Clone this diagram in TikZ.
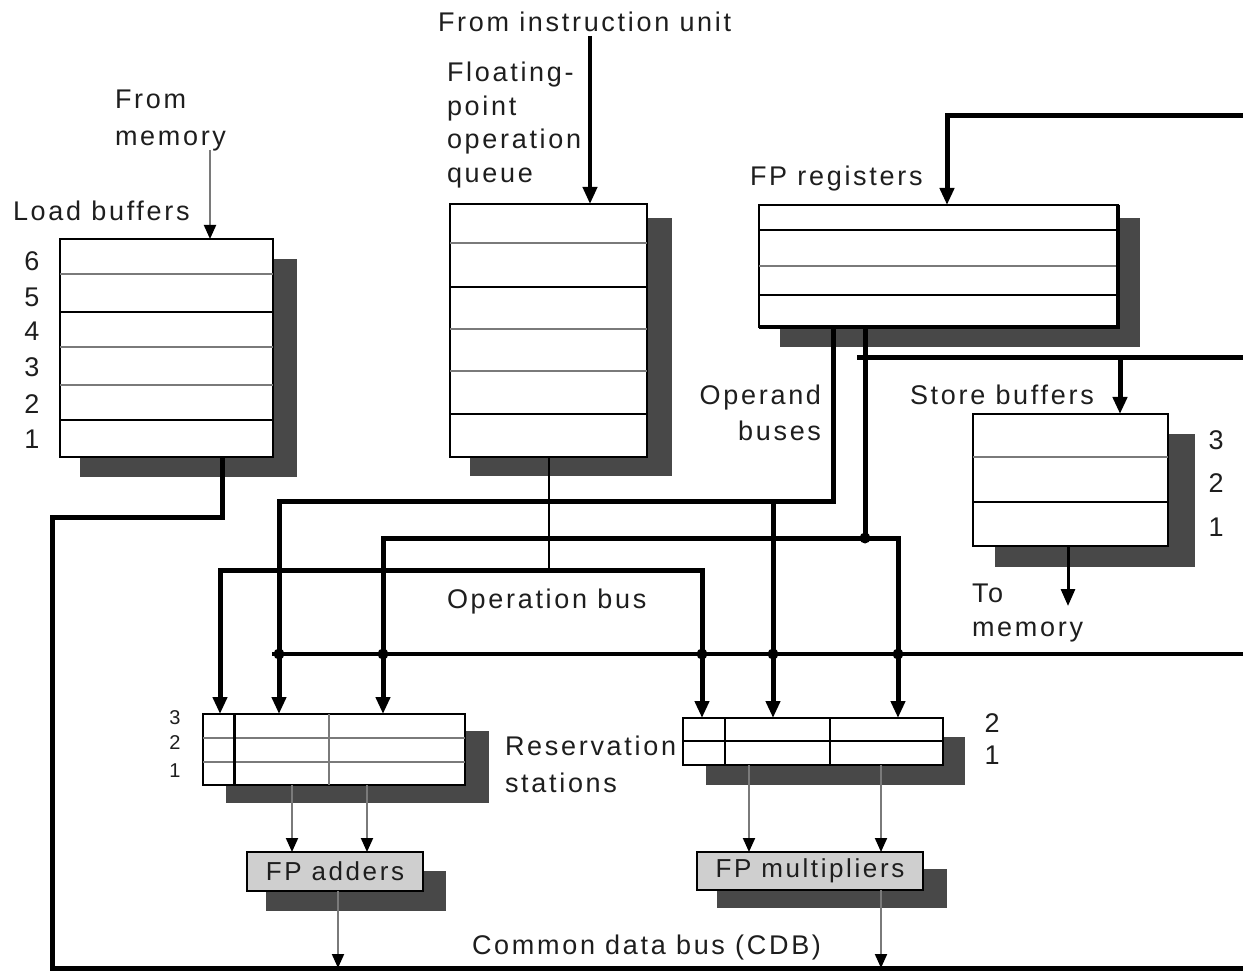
\documentclass[tikz,border=0pt]{standalone}
\usepackage{fontspec}
\setmainfont{Liberation Sans}[LetterSpace=10.0]
\usetikzlibrary{arrows.meta,calc}
\definecolor{shd}{HTML}{484848}
\definecolor{txt}{HTML}{1E1E1E}
\definecolor{gline}{HTML}{7A7A7A}
\definecolor{fufill}{HTML}{CFCFCF}
\begin{document}
\begin{tikzpicture}[x=1pt,y=-1pt,
  lbl/.style={font=\fontsize{27}{33}\selectfont, text=txt, inner sep=0pt, outer sep=0pt},
  box/.style={draw=black, line width=2pt, fill=white, inner sep=0pt, outer sep=0pt, anchor=north west},
  fubox/.style={draw=black, line width=2pt, fill=fufill, inner sep=0pt, outer sep=0pt, anchor=north west, font=\fontsize{26}{30}\selectfont, text=txt},
  bus/.style={line width=5pt, draw=black},
  busarr/.style={bus, -{Triangle[length=17pt,width=14pt]}},
  thinarr/.style={line width=2pt, draw=gline, -{Triangle[length=14pt,width=12pt,color=black]}},
  junction/.style={circle, fill=black, inner sep=0pt, minimum size=11pt},
  rowg/.style={line width=2pt, draw=gline},
  rowk/.style={line width=2.5pt, draw=black},
]
\useasboundingbox[fill=white] (0,0) rectangle (1243,973);

% ---------- shadows ----------
\fill[shd] (80,259) rectangle (297,477);
\fill[shd] (470,218) rectangle (672,476);
\fill[shd] (780,218) rectangle (1140,347);
\fill[shd] (995,434) rectangle (1195,567);
\fill[shd] (226,731) rectangle (489,803);
\fill[shd] (706,737) rectangle (965,785);
\fill[shd] (266,871) rectangle (446,911);
\fill[shd] (717,869) rectangle (947,908);

% ---------- load buffers ----------
\node[box, minimum width=213pt, minimum height=218pt] (lb) at (60,239) {};
\foreach \y/\s in {274/rowg,312/rowk,347/rowg,385/rowg,420/rowk}
  \draw[\s] (60,\y) -- (273,\y);
\foreach \n/\y in {6/261,5/297,4/331,3/367,2/404,1/439}
  \node[lbl] (lbn\n) at (32,\y) {\n};
\node[lbl, anchor=base west] (lbt) at (13,221) {Load buffers};
\node[lbl, anchor=north west, align=left, font=\fontsize{27}{37}\selectfont] (fmt) at (115,90) {From\\memory};

% ---------- FP operation queue ----------
\node[box, minimum width=197pt, minimum height=253pt] (q) at (450,204) {};
\foreach \y/\s in {243/rowg,287/rowk,329/rowg,371/rowg,414/rowk}
  \draw[\s] (450,\y) -- (647,\y);
\node[lbl, anchor=base west] (iut) at (438,32) {From instruction unit};
\node[lbl, anchor=north west, align=left, font=\fontsize{27}{33.7}\selectfont] (qt) at (447,62) {Floating-\\point\\operation\\queue};

% ---------- FP registers ----------
\node[box, minimum width=359pt, minimum height=122pt] (reg) at (759,205) {};
\foreach \y/\s in {230/rowk,266/rowg,295/rowk}
  \draw[\s] (759,\y) -- (1118,\y);
\draw[line width=4pt] (1118,205) -- (1118,327) -- (759,327);
\node[lbl, anchor=base west] (regt) at (750,186) {FP registers};

% ---------- store buffers ----------
\node[box, minimum width=195pt, minimum height=132pt] (sb) at (973,414) {};
\draw[rowg] (973,457) -- (1168,457);
\draw[rowk] (973,502) -- (1168,502);
\foreach \n/\y in {3/440,2/483,1/527}
  \node[lbl] (sbn\n) at (1216,\y) {\n};
\node[lbl, anchor=base west] (sbt) at (910,405) {Store buffers};
\node[lbl, anchor=north west, align=left, font=\fontsize{27}{34}\selectfont] (tmt) at (972,584) {To\\memory};

% ---------- reservation stations ----------
\node[box, minimum width=262pt, minimum height=71pt] (ars) at (203,714) {};
\draw[rowg] (203,738) -- (465,738);
\draw[rowg] (203,762) -- (465,762);
\draw[line width=3pt] (234,714) -- (234,785);
\draw[rowg] (329,714) -- (329,785);
\foreach \n/\y in {3/718,2/743,1/771}
  \node[lbl, font=\fontsize{20}{24}\selectfont] (arn\n) at (175,\y) {\n};

\node[box, minimum width=260pt, minimum height=47pt, line width=2.5pt] (mrs) at (683,718) {};
\draw[rowk] (683,741) -- (943,741);
\draw[rowk] (725,718) -- (725,765);
\draw[rowk] (830,718) -- (830,765);
\foreach \n/\y in {2/723,1/755}
  \node[lbl] (mrn\n) at (992,\y) {\n};
\node[lbl, anchor=north west, align=left, font=\fontsize{27}{37}\selectfont] (rst) at (505,736) {Reservation\\stations};

% ---------- functional units ----------
\node[fubox, minimum width=176pt, minimum height=39pt] (fpa) at (247,852) {FP adders};
\node[fubox, minimum width=226pt, minimum height=38pt] (fpm) at (697,852) {FP multipliers};

% ---------- other labels ----------
\node[lbl, anchor=north east, align=right, font=\fontsize{27}{36}\selectfont] (obt) at (821,385) {Operand\\buses};
\node[lbl, anchor=base west] (opt) at (447,608) {Operation bus};
\node[lbl, anchor=base west] (cdbt) at (472,954) {Common data bus (CDB)};

% ---------- coordinates ----------
\coordinate (fmS) at (210,150);
\coordinate (iuS) at (590,36);
\coordinate (regE) at (1243,116);
\coordinate (regK) at (947,116);
\coordinate (lbK) at (222,517);
\coordinate (cdbL) at (52,517);
\coordinate (cdbBL) at (52,968);
\coordinate (cdbBR) at (1243,968);
\coordinate (ob1K) at (833,502);
\coordinate (ob1L) at (279,502);
\coordinate (ob1M) at (773,502);
\coordinate (ob2K) at (865,538);
\coordinate (ob2L) at (383,538);
\coordinate (ob2R) at (898,538);
\coordinate (sbK) at (857,358);
\coordinate (sbE) at (1243,358);
\coordinate (sbD) at (1120,358);
\coordinate (opK) at (549,570);
\coordinate (opL) at (220,570);
\coordinate (opR) at (702,570);
\coordinate (rsL) at (272,654);
\coordinate (rsE) at (1243,654);
\coordinate (smo) at (1068,606);
\coordinate (a1) at (292,800);
\coordinate (a2) at (367,800);
\coordinate (m1) at (749,800);
\coordinate (m2) at (881,800);
\coordinate (ao) at (338,968);
\coordinate (mo) at (881,968);

% ---------- connectors ----------
\draw[thinarr] (fmS) -- (fmS |- lb.north);
\draw[busarr, line width=4pt] (iuS) -- (iuS |- q.north);
\draw[busarr] (regE) -- (regK) -- (regK |- reg.north);
\draw[bus] (lbK |- lb.south) -- (lbK) -- (cdbL) -- (cdbBL) -- (cdbBR);

\draw[busarr] (ob1K |- reg.south) -- (ob1K) -- (ob1L) -- (ob1L |- ars.north);
\draw[busarr] (ob1M) -- (ob1M |- mrs.north);

\draw[bus] (ob2K |- reg.south) -- (ob2K);
\draw[busarr] (ob2K) -- (ob2L) -- (ob2L |- ars.north);
\draw[busarr] (ob2K) -- (ob2R) -- (ob2R |- mrs.north);
\node[junction] (j0) at (ob2K) {};

\draw[bus] (sbK) -- (sbE);
\draw[busarr] (sbD) -- (sbD |- sb.north);

\draw[line width=2pt] (opK |- q.south) -- (opK);
\draw[busarr] (opK) -- (opL) -- (opL |- ars.north);
\draw[busarr] (opK) -- (opR) -- (opR |- mrs.north);

\draw[line width=4pt] (rsL) -- (rsE);
\node[junction] (j1) at (ob1L |- rsL) {};
\node[junction] (j2) at (ob2L |- rsL) {};
\node[junction] (j3) at (opR |- rsL) {};
\node[junction] (j4) at (ob1M |- rsL) {};
\node[junction] (j5) at (ob2R |- rsL) {};

\draw[busarr, line width=3pt] (smo |- sb.south) -- (smo);

\draw[thinarr] (a1 |- ars.south) -- (a1 |- fpa.north);
\draw[thinarr] (a2 |- ars.south) -- (a2 |- fpa.north);
\draw[thinarr] (m1 |- mrs.south) -- (m1 |- fpm.north);
\draw[thinarr] (m2 |- mrs.south) -- (m2 |- fpm.north);
\draw[thinarr] (ao |- fpa.south) -- (ao);
\draw[thinarr] (mo |- fpm.south) -- (mo);
\end{tikzpicture}
\end{document}
